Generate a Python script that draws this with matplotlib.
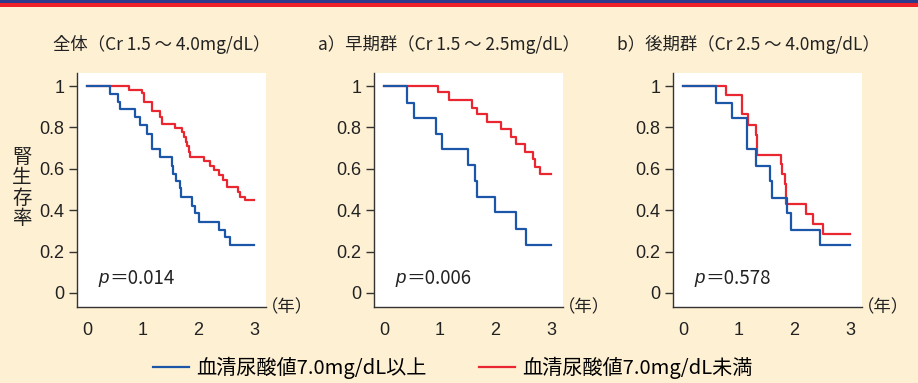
import matplotlib
matplotlib.use("Agg")
import matplotlib.pyplot as plt
from matplotlib.patches import Rectangle
from matplotlib.lines import Line2D

plt.rcParams['font.family'] = ['Noto Sans CJK JP', 'DejaVu Sans']

BG = "#fef0d3"
BLUE = "#1c56a8"
RED = "#ea2630"
AXC = "#333333"

titles = ["全体（Cr 1.5 ～ 4.0mg/dL）",
          "a）早期群（Cr 1.5 ～ 2.5mg/dL）",
          "b）後期群（Cr 2.5 ～ 4.0mg/dL）"]
pvals = ["0.014", "0.006", "0.578"]
legend_labels = ["血清尿酸値7.0mg/dL以上", "血清尿酸値7.0mg/dL未満"]
x_ticks = [0, 1, 2, 3]
y_ticks = [0, 0.2, 0.4, 0.6, 0.8, 1]
y_ticklabels = ["0", "0.2", "0.4", "0.6", "0.8", "1"]

# 全体
t_all_hi = [0, 0.41, 0.56, 0.59, 0.86, 0.95, 1.07, 1.16, 1.30, 1.52, 1.55,
            1.59, 1.66, 1.68, 1.88, 1.94, 2.00, 2.37, 2.48, 2.56, 3.0]
s_all_hi = [1, 0.961, 0.924, 0.888, 0.848, 0.81, 0.77, 0.694, 0.658, 0.613,
            0.577, 0.542, 0.505, 0.465, 0.419, 0.384, 0.345, 0.306, 0.271,
            0.234, 0.234]
t_all_lo = [0, 0.76, 0.98, 1.02, 1.16, 1.30, 1.34, 1.58, 1.70, 1.74, 1.78,
            1.80, 1.83, 1.85, 2.10, 2.20, 2.28, 2.36, 2.43, 2.51, 2.70, 2.74,
            2.83, 3.0]
s_all_lo = [1, 0.981, 0.965, 0.921, 0.881, 0.852, 0.815, 0.795, 0.779, 0.755,
            0.73, 0.71, 0.682, 0.658, 0.639, 0.613, 0.594, 0.569, 0.545, 0.513,
            0.489, 0.465, 0.448, 0.448]

# 早期群
t_early_hi = [0, 0.42, 0.54, 0.94, 1.04, 1.50, 1.64, 1.67, 1.99, 2.37, 2.54, 3.0]
s_early_hi = [1, 0.919, 0.847, 0.768, 0.694, 0.616, 0.542, 0.465, 0.389,
              0.308, 0.234, 0.234]
t_early_lo = [0, 0.97, 1.16, 1.58, 1.66, 1.85, 2.10, 2.28, 2.37, 2.52, 2.67,
              2.70, 2.79, 3.0]
s_early_lo = [1, 0.969, 0.932, 0.895, 0.863, 0.827, 0.79, 0.752, 0.719, 0.682,
              0.645, 0.61, 0.574, 0.574]

# 後期群
t_late_hi = [0, 0.60, 0.87, 1.14, 1.30, 1.56, 1.60, 1.86, 1.94, 2.46, 3.0]
s_late_hi = [1, 0.919, 0.847, 0.694, 0.613, 0.542, 0.461, 0.387, 0.306,
             0.234, 0.234]
t_late_lo = [0, 0.77, 1.05, 1.17, 1.30, 1.33, 1.75, 1.78, 1.82, 1.84, 2.20,
             2.33, 2.51, 3.0]
s_late_lo = [1, 0.956, 0.865, 0.81, 0.763, 0.669, 0.621, 0.573, 0.526, 0.429,
             0.381, 0.335, 0.287, 0.287]

panels = [
    (t_all_hi, s_all_hi, t_all_lo, s_all_lo),
    (t_early_hi, s_early_hi, t_early_lo, s_early_lo),
    (t_late_hi, s_late_hi, t_late_lo, s_late_lo),
]

W, H = 918, 383
fig = plt.figure(figsize=(W / 100, H / 100), dpi=100)
fig.patch.set_facecolor(BG)

# top stripes
fig.add_artist(Rectangle((0, 1 - 3 / H), 1, 3 / H, transform=fig.transFigure,
                         color="#2d3a8c", lw=0))
fig.add_artist(Rectangle((0, 1 - 7 / H), 1, 4 / H, transform=fig.transFigure,
                         color="#ee2128", lw=0))

lefts = [77, 374, 673]
title_x = [53, 318, 617]
top, bottom, width = 73, 307, 189

for i, (th, sh, tl, sl) in enumerate(panels):
    ax = fig.add_axes([lefts[i] / W, 1 - bottom / H, width / W, (bottom - top) / H])
    ax.set_facecolor("white")
    ax.plot(tl, sl, drawstyle="steps-post", color=RED, lw=1.6)
    ax.plot(th, sh, drawstyle="steps-post", color=BLUE, lw=1.6)
    ax.set_xlim(-0.18, 3.21)
    ax.set_ylim(-0.068, 1.063)
    for s in ["top", "right"]:
        ax.spines[s].set_visible(False)
    for s in ["left", "bottom"]:
        ax.spines[s].set_color(AXC)
        ax.spines[s].set_linewidth(1.0)
    ax.set_yticks(y_ticks)
    ax.set_yticklabels(y_ticklabels, family="Liberation Sans", fontsize=13,
                       color="#222222")
    ax.set_xticks(x_ticks)
    ax.set_xticklabels([str(v) for v in x_ticks], family="Liberation Sans",
                       fontsize=13, color="#222222")
    ax.tick_params(axis="y", length=6, width=1, color=AXC, pad=3)
    ax.tick_params(axis="x", length=0, pad=11)

    ax.text(0.21, 0.07, "p", style="italic", family="Liberation Sans",
            fontsize=13.5, va="center", color="#222222")
    ax.annotate("＝" + pvals[i], xy=(0.21, 0.07), xytext=(8, 0),
                textcoords="offset points", fontsize=13.5, va="center",
                color="#222222")
    ax.text(0.975, 0.0, "（年）", transform=ax.transAxes, fontsize=12.5,
            va="center", ha="left", color="#222222")

    fig.text(title_x[i] / W, 1 - 44 / H, titles[i], fontsize=12.5,
             va="center", ha="left", color="#222222")

fig.text(22 / W, 1 - 188 / H, "腎\n生\n存\n率", fontsize=14, va="center",
         ha="center", linespacing=0.95, color="#222222")

handles = [Line2D([], [], color=BLUE, lw=1.6), Line2D([], [], color=RED, lw=1.6)]
fig.legend(handles, legend_labels, loc="center", bbox_to_anchor=(453 / W, 1 - 368 / H),
           ncol=2, frameon=False, fontsize=14.5, handlelength=1.8,
           handletextpad=0.35, columnspacing=2.6)

fig.savefig("out.png", dpi=100, facecolor=BG)
